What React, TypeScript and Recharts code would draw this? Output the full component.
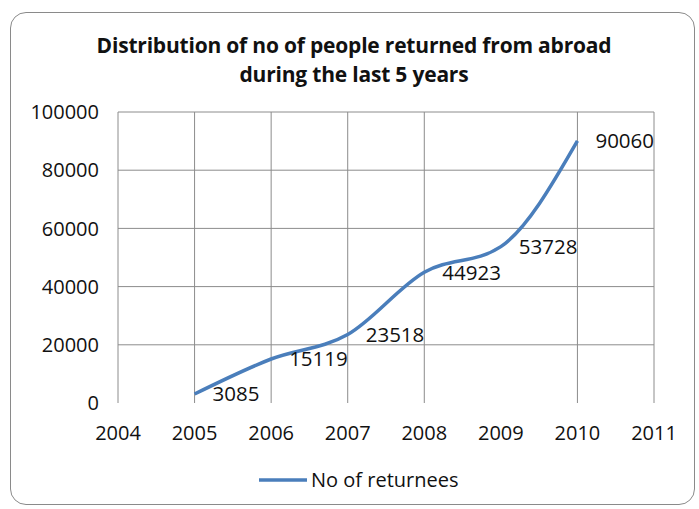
import React from "react";
import {
  LineChart, Line, XAxis, YAxis, CartesianGrid, LabelList,
} from "recharts";

const years = [2005, 2006, 2007, 2008, 2009, 2010];
const returnees = [3085, 15119, 23518, 44923, 53728, 90060];
const xTicks = [2004, 2005, 2006, 2007, 2008, 2009, 2010, 2011];
const yTicks = [0, 20000, 40000, 60000, 80000, 100000];
// the original has no vertical gridline at 2009
const vGrid = [2004, 2005, 2006, 2007, 2008, 2010, 2011];
const hGrid = [20000, 40000, 60000, 80000, 100000];

const data = years.map((y, i) => ({ year: y, value: returnees[i] }));

const FONT = "'Open Sans', sans-serif";
const BLUE = "#4a7ebb";

export default function App() {
  return (
    <div style={{ position: "absolute", left: 0, top: 0, width: 699, height: 509, background: "#fff" }}>
      <div
        style={{
          position: "absolute", left: 10, top: 12, width: 685, height: 493,
          border: "1.5px solid #8a8a8a", borderRadius: 16, boxSizing: "border-box",
        }}
      />
      <div
        style={{
          position: "absolute", left: 0, top: 31, width: 708, textAlign: "center",
          fontFamily: FONT, fontWeight: 700, fontSize: 21, lineHeight: "29px", color: "#111",
          letterSpacing: -0.2,
        }}
      >
        Distribution of no of people returned from abroad
        <br />
        during the last 5 years
      </div>
      <LineChart
        width={699}
        height={509}
        data={data}
        margin={{ top: 112, right: 45, bottom: 76, left: 0 }}
        style={{ position: "absolute", left: 0, top: 0 }}
      >
        <CartesianGrid
          stroke="#8c8c8c"
          verticalValues={vGrid}
          horizontalValues={hGrid}
        />
        <XAxis
          dataKey="year"
          type="number"
          domain={[2004, 2011]}
          ticks={xTicks}
          axisLine={false}
          tickLine={false}
          tickMargin={17}
          height={30}
          tick={{ fontFamily: FONT, fontSize: 20, fill: "#111" }}
        />
        <YAxis
          domain={[0, 100000]}
          ticks={yTicks}
          axisLine={false}
          tickLine={false}
          width={118}
          tickMargin={13}
          tick={{ fontFamily: FONT, fontSize: 20, fill: "#111" }}
        />
        <Line
          type="monotone"
          dataKey="value"
          name="No of returnees"
          stroke={BLUE}
          strokeWidth={3.5}
          dot={false}
          isAnimationActive={false}
        >
          <LabelList
            dataKey="value"
            position="right"
            offset={18}
            style={{ fontFamily: FONT, fontSize: 20.5, fill: "#111" }}
          />
        </Line>
      </LineChart>
      <div
        style={{
          position: "absolute", left: 259, top: 466, display: "flex", alignItems: "center",
          fontFamily: FONT, fontSize: 20, color: "#111", lineHeight: "28px",
        }}
      >
        <svg width={48} height={8} style={{ marginRight: 4 }}>
          <line x1={0} y1={4} x2={48} y2={4} stroke={BLUE} strokeWidth={3.5} />
        </svg>
        <span>No of returnees</span>
      </div>
    </div>
  );
}
